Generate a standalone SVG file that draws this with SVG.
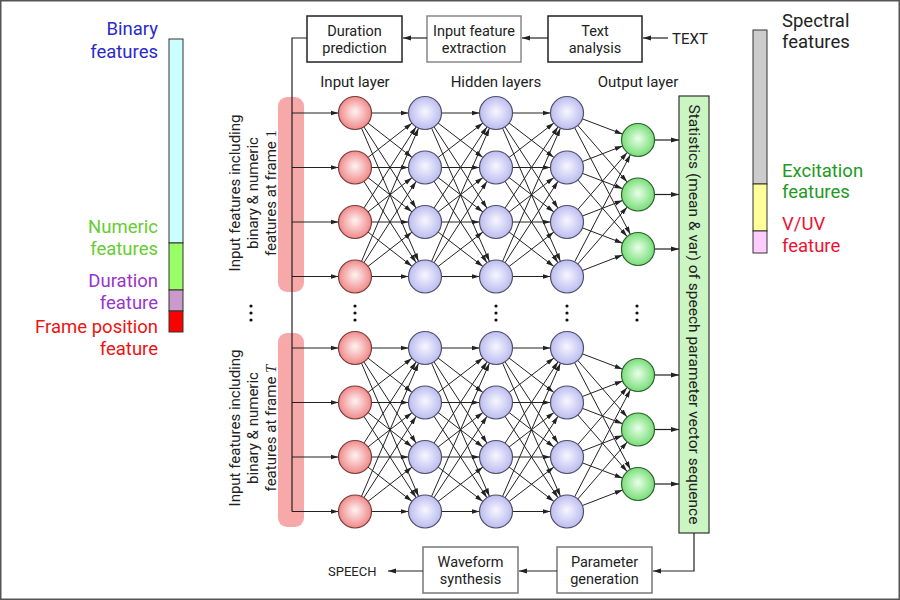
<svg xmlns="http://www.w3.org/2000/svg" xmlns:xlink="http://www.w3.org/1999/xlink" width="900" height="600" viewBox="0 0 900 600">
<style>
text{font-family:Roboto,"Liberation Sans",sans-serif;fill:#222}
.box{fill:#fff;stroke:#222;stroke-width:1.5}
.gbox{fill:#fff;stroke:#888;stroke-width:1.5}
.bt{font-size:14.5px;text-anchor:middle}
.c{stroke:#222;stroke-width:1;fill:none;marker-end:url(#ah)}
.a{stroke:#222;stroke-width:1.2;fill:none;marker-end:url(#ae)}
.w{stroke:#222;stroke-width:1.2;fill:none}
.ni{fill:url(#gi);stroke:#7a3b3b;stroke-width:1.2}
.nh{fill:url(#gh);stroke:#4f4f6a;stroke-width:1.2}
.no{fill:url(#go);stroke:#2f5f2f;stroke-width:1.2}
.lg{font-size:18.5px}
.ll{font-size:15px;text-anchor:middle}
.vl{font-size:15px;text-anchor:middle}
.dot{fill:#111}
</style>
<defs>
<radialGradient id="gi" cx="50%" cy="50%" r="50%" fx="50%" fy="45%"><stop offset="0" stop-color="#fff3f3"/><stop offset="1" stop-color="#f08a8a"/></radialGradient>
<radialGradient id="gh" cx="50%" cy="50%" r="50%" fx="50%" fy="45%"><stop offset="0" stop-color="#f7f7ff"/><stop offset="1" stop-color="#bcbcf0"/></radialGradient>
<radialGradient id="go" cx="50%" cy="50%" r="50%" fx="50%" fy="45%"><stop offset="0" stop-color="#eaffea"/><stop offset="1" stop-color="#78de78"/></radialGradient>
<marker id="ah" viewBox="0 0 25 6" refX="24.5" refY="3" markerWidth="25" markerHeight="6" markerUnits="userSpaceOnUse" orient="auto"><path d="M0,0.6 L8,3 L0,5.4 z" fill="#222"/></marker>
<marker id="ae" viewBox="0 0 8 6" refX="8" refY="3" markerWidth="8" markerHeight="6" markerUnits="userSpaceOnUse" orient="auto"><path d="M0,0.6 L8,3 L0,5.4 z" fill="#222"/></marker>
</defs>
<rect x="0" y="0" width="900" height="600" fill="#fff"/>
<rect x="0.75" y="0.75" width="898.5" height="598.5" fill="none" stroke="#555" stroke-width="1.5"/>

<!-- legend left -->
<g id="legend-input">
<rect x="169" y="39" width="14" height="204" fill="#ccffff" stroke="#333" stroke-width="1"/>
<rect x="169" y="243" width="14" height="47" fill="#99ff66" stroke="#333" stroke-width="1"/>
<rect x="169" y="290" width="14" height="21" fill="#cc99cc" stroke="#333" stroke-width="1"/>
<rect x="169" y="311" width="14" height="21" fill="#ff0000" stroke="#333" stroke-width="1"/>
<text class="lg" x="158" y="35" text-anchor="end" style="fill:#2a2acc">Binary</text>
<text class="lg" x="158" y="58" text-anchor="end" style="fill:#2a2acc">features</text>
<text class="lg" x="158" y="233" text-anchor="end" style="fill:#66cc33">Numeric</text>
<text class="lg" x="158" y="255" text-anchor="end" style="fill:#66cc33">features</text>
<text class="lg" x="158" y="287" text-anchor="end" style="fill:#9933cc">Duration</text>
<text class="lg" x="158" y="309" text-anchor="end" style="fill:#9933cc">feature</text>
<text class="lg" x="158" y="333" text-anchor="end" style="fill:#ee1111">Frame position</text>
<text class="lg" x="158" y="355" text-anchor="end" style="fill:#ee1111">feature</text>
</g>

<!-- legend right -->
<g id="legend-output">
<rect x="753" y="30" width="14" height="154" fill="#cccccc" stroke="#333" stroke-width="1"/>
<rect x="753" y="184" width="14" height="47" fill="#ffff99" stroke="#333" stroke-width="1"/>
<rect x="753" y="231" width="14" height="22" fill="#ffccff" stroke="#333" stroke-width="1"/>
<text class="lg" x="782" y="27" style="fill:#222">Spectral</text>
<text class="lg" x="782" y="48" style="fill:#222">features</text>
<text class="lg" x="782" y="177" style="fill:#229922">Excitation</text>
<text class="lg" x="782" y="198" style="fill:#229922">features</text>
<text class="lg" x="782" y="230" style="fill:#ee1133">V/UV</text>
<text class="lg" x="782" y="252" style="fill:#ee1133">feature</text>
</g>

<!-- input frame highlights -->
<g id="frame1-band"><rect x="278" y="97" width="26" height="195" rx="9" fill="#f7a9a9"/></g>
<g id="frameT-band"><rect x="278" y="333" width="26" height="194" rx="9" fill="#f7a9a9"/></g>

<!-- labels -->
<g id="frame1-label">
<text class="vl" transform="translate(240,193) rotate(-90)">Input features including</text>
<text class="vl" transform="translate(258,193) rotate(-90)">binary &amp; numeric</text>
<text class="vl" transform="translate(276,193) rotate(-90)">features at frame <tspan style="font-family:'Liberation Serif',serif">1</tspan></text>
</g>
<g id="frameT-label">
<text class="vl" transform="translate(240,428) rotate(-90)">Input features including</text>
<text class="vl" transform="translate(258,428) rotate(-90)">binary &amp; numeric</text>
<text class="vl" transform="translate(276,428) rotate(-90)">features at frame <tspan style="font-family:'Liberation Serif',serif;font-style:italic">T</tspan></text>
</g>
<text class="ll" x="355" y="87">Input layer</text>
<text class="ll" x="496" y="87">Hidden layers</text>
<text class="ll" x="638" y="87">Output layer</text>

<!-- boxes -->
<g id="duration-prediction"><rect class="box" x="307" y="16" width="95" height="46"/><text class="bt" x="354.5" y="35.5">Duration</text><text class="bt" x="354.5" y="53">prediction</text></g>
<g id="input-feature-extraction"><rect class="gbox" x="427" y="16" width="94" height="46"/><text class="bt" x="474" y="35.5">Input feature</text><text class="bt" x="474" y="53">extraction</text></g>
<g id="text-analysis"><rect class="box" x="548" y="16" width="94" height="46"/><text class="bt" x="595" y="35.5">Text</text><text class="bt" x="595" y="53">analysis</text></g>
<g id="text-input"><text x="672" y="44" style="font-size:15px">TEXT</text></g>
<g id="waveform-synthesis"><rect class="gbox" x="423" y="547" width="95" height="46" style="stroke:#777"/><text class="bt" x="470.5" y="566.5">Waveform</text><text class="bt" x="470.5" y="584">synthesis</text></g>
<g id="parameter-generation"><rect class="gbox" x="557" y="547" width="95" height="46" style="stroke:#777"/><text class="bt" x="604.5" y="566.5">Parameter</text><text class="bt" x="604.5" y="584">generation</text></g>
<g id="speech-output"><text x="328" y="576" style="font-size:13px">SPEECH</text></g>
<g id="statistics"><rect x="679" y="96" width="30" height="437" fill="#ccf5c4" stroke="#333" stroke-width="1.2"/><text transform="translate(688.5,314.5) rotate(90)" style="font-size:15.5px;text-anchor:middle">Statistics (mean &amp; var) of speech parameter vector sequence</text></g>

<!-- connectors -->
<g id="connectors">
<line class="a" x1="668" y1="38" x2="643" y2="38"/>
<line class="a" x1="548" y1="38" x2="522" y2="38"/>
<line class="a" x1="427" y1="38" x2="403" y2="38"/>
<polyline class="w" points="307,38 292,38 292,511.5"/>
<polyline class="a" points="694,533 694,571 653,571"/>
<line class="a" x1="557" y1="571" x2="519" y2="571"/>
<line class="a" x1="423" y1="571" x2="388" y2="571"/>
<g id="net-top">
<line class="c" x1="292" y1="113" x2="355" y2="113"/>
<line class="c" x1="292" y1="167.5" x2="355" y2="167.5"/>
<line class="c" x1="292" y1="222" x2="355" y2="222"/>
<line class="c" x1="292" y1="276.5" x2="355" y2="276.5"/>
<line class="c" x1="355" y1="113" x2="425" y2="113"/><line class="c" x1="355" y1="113" x2="425" y2="167.5"/><line class="c" x1="355" y1="113" x2="425" y2="222"/><line class="c" x1="355" y1="113" x2="425" y2="276.5"/>
<line class="c" x1="355" y1="167.5" x2="425" y2="113"/><line class="c" x1="355" y1="167.5" x2="425" y2="167.5"/><line class="c" x1="355" y1="167.5" x2="425" y2="222"/><line class="c" x1="355" y1="167.5" x2="425" y2="276.5"/>
<line class="c" x1="355" y1="222" x2="425" y2="113"/><line class="c" x1="355" y1="222" x2="425" y2="167.5"/><line class="c" x1="355" y1="222" x2="425" y2="222"/><line class="c" x1="355" y1="222" x2="425" y2="276.5"/>
<line class="c" x1="355" y1="276.5" x2="425" y2="113"/><line class="c" x1="355" y1="276.5" x2="425" y2="167.5"/><line class="c" x1="355" y1="276.5" x2="425" y2="222"/><line class="c" x1="355" y1="276.5" x2="425" y2="276.5"/>
<line class="c" x1="425" y1="113" x2="496" y2="113"/><line class="c" x1="425" y1="113" x2="496" y2="167.5"/><line class="c" x1="425" y1="113" x2="496" y2="222"/><line class="c" x1="425" y1="113" x2="496" y2="276.5"/>
<line class="c" x1="425" y1="167.5" x2="496" y2="113"/><line class="c" x1="425" y1="167.5" x2="496" y2="167.5"/><line class="c" x1="425" y1="167.5" x2="496" y2="222"/><line class="c" x1="425" y1="167.5" x2="496" y2="276.5"/>
<line class="c" x1="425" y1="222" x2="496" y2="113"/><line class="c" x1="425" y1="222" x2="496" y2="167.5"/><line class="c" x1="425" y1="222" x2="496" y2="222"/><line class="c" x1="425" y1="222" x2="496" y2="276.5"/>
<line class="c" x1="425" y1="276.5" x2="496" y2="113"/><line class="c" x1="425" y1="276.5" x2="496" y2="167.5"/><line class="c" x1="425" y1="276.5" x2="496" y2="222"/><line class="c" x1="425" y1="276.5" x2="496" y2="276.5"/>
<line class="c" x1="496" y1="113" x2="567" y2="113"/><line class="c" x1="496" y1="113" x2="567" y2="167.5"/><line class="c" x1="496" y1="113" x2="567" y2="222"/><line class="c" x1="496" y1="113" x2="567" y2="276.5"/>
<line class="c" x1="496" y1="167.5" x2="567" y2="113"/><line class="c" x1="496" y1="167.5" x2="567" y2="167.5"/><line class="c" x1="496" y1="167.5" x2="567" y2="222"/><line class="c" x1="496" y1="167.5" x2="567" y2="276.5"/>
<line class="c" x1="496" y1="222" x2="567" y2="113"/><line class="c" x1="496" y1="222" x2="567" y2="167.5"/><line class="c" x1="496" y1="222" x2="567" y2="222"/><line class="c" x1="496" y1="222" x2="567" y2="276.5"/>
<line class="c" x1="496" y1="276.5" x2="567" y2="113"/><line class="c" x1="496" y1="276.5" x2="567" y2="167.5"/><line class="c" x1="496" y1="276.5" x2="567" y2="222"/><line class="c" x1="496" y1="276.5" x2="567" y2="276.5"/>
<line class="c" x1="567" y1="113" x2="638" y2="140"/><line class="c" x1="567" y1="113" x2="638" y2="194.5"/><line class="c" x1="567" y1="113" x2="638" y2="249"/>
<line class="c" x1="567" y1="167.5" x2="638" y2="140"/><line class="c" x1="567" y1="167.5" x2="638" y2="194.5"/><line class="c" x1="567" y1="167.5" x2="638" y2="249"/>
<line class="c" x1="567" y1="222" x2="638" y2="140"/><line class="c" x1="567" y1="222" x2="638" y2="194.5"/><line class="c" x1="567" y1="222" x2="638" y2="249"/>
<line class="c" x1="567" y1="276.5" x2="638" y2="140"/><line class="c" x1="567" y1="276.5" x2="638" y2="194.5"/><line class="c" x1="567" y1="276.5" x2="638" y2="249"/>
<line class="a" x1="654.5" y1="140" x2="679" y2="140"/>
<line class="a" x1="654.5" y1="194.5" x2="679" y2="194.5"/>
<line class="a" x1="654.5" y1="249" x2="679" y2="249"/>
</g>
<use id="net-bottom" xlink:href="#net-top" href="#net-top" transform="translate(0,235)"/>
</g>

<!-- nodes -->
<g id="in1"><circle class="ni" cx="355" cy="113" r="16.5"/></g>
<g id="in2"><circle class="ni" cx="355" cy="167.5" r="16.5"/></g>
<g id="in3"><circle class="ni" cx="355" cy="222" r="16.5"/></g>
<g id="in4"><circle class="ni" cx="355" cy="276.5" r="16.5"/></g>
<g id="in5"><circle class="ni" cx="355" cy="348" r="16.5"/></g>
<g id="in6"><circle class="ni" cx="355" cy="402.5" r="16.5"/></g>
<g id="in7"><circle class="ni" cx="355" cy="457" r="16.5"/></g>
<g id="in8"><circle class="ni" cx="355" cy="511.5" r="16.5"/></g>
<g id="h1a"><circle class="nh" cx="425" cy="113" r="16.5"/></g>
<g id="h1b"><circle class="nh" cx="425" cy="167.5" r="16.5"/></g>
<g id="h1c"><circle class="nh" cx="425" cy="222" r="16.5"/></g>
<g id="h1d"><circle class="nh" cx="425" cy="276.5" r="16.5"/></g>
<g id="h1e"><circle class="nh" cx="425" cy="348" r="16.5"/></g>
<g id="h1f"><circle class="nh" cx="425" cy="402.5" r="16.5"/></g>
<g id="h1g"><circle class="nh" cx="425" cy="457" r="16.5"/></g>
<g id="h1h"><circle class="nh" cx="425" cy="511.5" r="16.5"/></g>
<g id="h2a"><circle class="nh" cx="496" cy="113" r="16.5"/></g>
<g id="h2b"><circle class="nh" cx="496" cy="167.5" r="16.5"/></g>
<g id="h2c"><circle class="nh" cx="496" cy="222" r="16.5"/></g>
<g id="h2d"><circle class="nh" cx="496" cy="276.5" r="16.5"/></g>
<g id="h2e"><circle class="nh" cx="496" cy="348" r="16.5"/></g>
<g id="h2f"><circle class="nh" cx="496" cy="402.5" r="16.5"/></g>
<g id="h2g"><circle class="nh" cx="496" cy="457" r="16.5"/></g>
<g id="h2h"><circle class="nh" cx="496" cy="511.5" r="16.5"/></g>
<g id="h3a"><circle class="nh" cx="567" cy="113" r="16.5"/></g>
<g id="h3b"><circle class="nh" cx="567" cy="167.5" r="16.5"/></g>
<g id="h3c"><circle class="nh" cx="567" cy="222" r="16.5"/></g>
<g id="h3d"><circle class="nh" cx="567" cy="276.5" r="16.5"/></g>
<g id="h3e"><circle class="nh" cx="567" cy="348" r="16.5"/></g>
<g id="h3f"><circle class="nh" cx="567" cy="402.5" r="16.5"/></g>
<g id="h3g"><circle class="nh" cx="567" cy="457" r="16.5"/></g>
<g id="h3h"><circle class="nh" cx="567" cy="511.5" r="16.5"/></g>
<g id="out1"><circle class="no" cx="638" cy="140" r="16.5"/></g>
<g id="out2"><circle class="no" cx="638" cy="194.5" r="16.5"/></g>
<g id="out3"><circle class="no" cx="638" cy="249" r="16.5"/></g>
<g id="out4"><circle class="no" cx="638" cy="375" r="16.5"/></g>
<g id="out5"><circle class="no" cx="638" cy="429.5" r="16.5"/></g>
<g id="out6"><circle class="no" cx="638" cy="484" r="16.5"/></g>

<!-- ellipses -->
<g id="ellipsis">
<circle class="dot" cx="251" cy="306" r="1.6"/><circle class="dot" cx="251" cy="313" r="1.6"/><circle class="dot" cx="251" cy="320" r="1.6"/>
<circle class="dot" cx="355" cy="306" r="1.6"/><circle class="dot" cx="355" cy="313" r="1.6"/><circle class="dot" cx="355" cy="320" r="1.6"/>
<circle class="dot" cx="496" cy="306" r="1.6"/><circle class="dot" cx="496" cy="313" r="1.6"/><circle class="dot" cx="496" cy="320" r="1.6"/>
<circle class="dot" cx="567" cy="306" r="1.6"/><circle class="dot" cx="567" cy="313" r="1.6"/><circle class="dot" cx="567" cy="320" r="1.6"/>
<circle class="dot" cx="637" cy="306" r="1.6"/><circle class="dot" cx="637" cy="313" r="1.6"/><circle class="dot" cx="637" cy="320" r="1.6"/>
</g>
</svg>
